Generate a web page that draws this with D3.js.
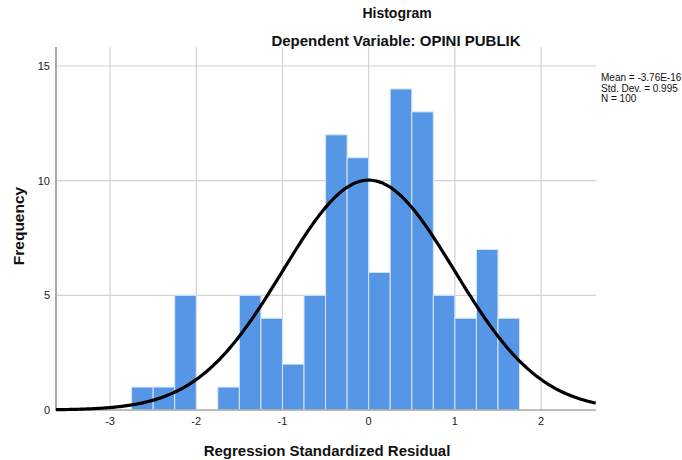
<!DOCTYPE html>
<html><head><meta charset="utf-8">
<script src="https://cdn.jsdelivr.net/npm/d3@7"></script>
<style>body{margin:0;background:#fff;} text{font-family:Arial,"Liberation Sans",sans-serif;}</style>
</head><body>
<svg id="c" width="682" height="460"></svg>
<script>
const binStarts = [-2.75,-2.5,-2.25,-2.0,-1.75,-1.5,-1.25,-1.0,-0.75,-0.5,-0.25,0.0,0.25,0.5,0.75,1.0,1.25,1.5];
const counts    = [1,1,5,0,1,5,4,2,5,12,11,6,14,13,5,4,7,4];
const binWidth = 0.25;
const xTicks = [-3,-2,-1,0,1,2];
const yTicks = [0,5,10,15];
const meanVal = -3.76e-16, sdVal = 0.995, nVal = 100;
const statLabels = ["Mean = -3.76E-16","Std. Dev. = 0.995","N = 100"];

const svg = d3.select("#c");
const L=56, R=596, T=47, B=410;
const x = d3.scaleLinear().domain([-3.627,2.637]).range([L,R]);
const y = d3.scaleLinear().domain([0,15]).range([B,66]);

// grid
svg.append("g").selectAll("line").data(xTicks).join("line")
  .attr("x1",d=>x(d)).attr("x2",d=>x(d)).attr("y1",T).attr("y2",B)
  .attr("stroke","#d2d2d2").attr("stroke-width",1.2);
svg.append("g").selectAll("line").data(yTicks.filter(d=>d>0)).join("line")
  .attr("x1",L).attr("x2",R).attr("y1",d=>y(d)).attr("y2",d=>y(d))
  .attr("stroke","#d2d2d2").attr("stroke-width",1.2);

// bars
svg.append("g").selectAll("rect").data(binStarts.map((s,i)=>({s,c:counts[i]})).filter(d=>d.c>0)).join("rect")
  .attr("x",d=>x(d.s)).attr("width",d=>x(d.s+binWidth)-x(d.s))
  .attr("y",d=>y(d.c)).attr("height",d=>y(0)-y(d.c))
  .attr("fill","#5597e6").attr("stroke","#d6e6f9").attr("stroke-width",1);

// axes lines
svg.append("line").attr("x1",L).attr("x2",L).attr("y1",T).attr("y2",B+1).attr("stroke","#a8a8a8").attr("stroke-width",2);
svg.append("line").attr("x1",L).attr("x2",R).attr("y1",B).attr("y2",B).attr("stroke","#a8a8a8").attr("stroke-width",1.5);

// normal curve
const pdf = v => nVal*binWidth/(sdVal*Math.sqrt(2*Math.PI))*Math.exp(-0.5*Math.pow((v-meanVal)/sdVal,2));
const xs = d3.range(x.domain()[0], x.domain()[1]+0.001, 0.02);
svg.append("path").datum(xs)
  .attr("d", d3.line().x(d=>x(d)).y(d=>y(pdf(d))).curve(d3.curveBasis))
  .attr("fill","none").attr("stroke","#000").attr("stroke-width",3.2);

// tick labels
svg.append("g").selectAll("text").data(xTicks).join("text")
  .attr("x",d=>x(d)).attr("y",425).attr("text-anchor","middle")
  .attr("font-size",11).attr("fill","#222").text(d=>d);
svg.append("g").selectAll("text").data(yTicks).join("text")
  .attr("x",50).attr("y",d=>y(d)+4).attr("text-anchor","end")
  .attr("font-size",11).attr("fill","#222").text(d=>d);

// titles
svg.append("text").attr("x",397).attr("y",18).attr("text-anchor","middle")
  .attr("font-size",14).attr("font-weight","bold").attr("fill","#111").text("Histogram");
svg.append("text").attr("x",396).attr("y",46).attr("text-anchor","middle")
  .attr("font-size",15).attr("font-weight","bold").attr("fill","#111").text("Dependent Variable: OPINI PUBLIK");
svg.append("text").attr("x",327).attr("y",456).attr("text-anchor","middle")
  .attr("font-size",15).attr("font-weight","bold").attr("fill","#111").text("Regression Standardized Residual");
svg.append("text").attr("transform","translate(24,226) rotate(-90)").attr("text-anchor","middle")
  .attr("font-size",15.5).attr("font-weight","bold").attr("fill","#111").text("Frequency");

// stats
svg.append("g").selectAll("text").data(statLabels).join("text")
  .attr("x",601).attr("y",(d,i)=>81+i*10.5).attr("font-size",10).attr("fill","#111").text(d=>d);
</script>
</body></html>
